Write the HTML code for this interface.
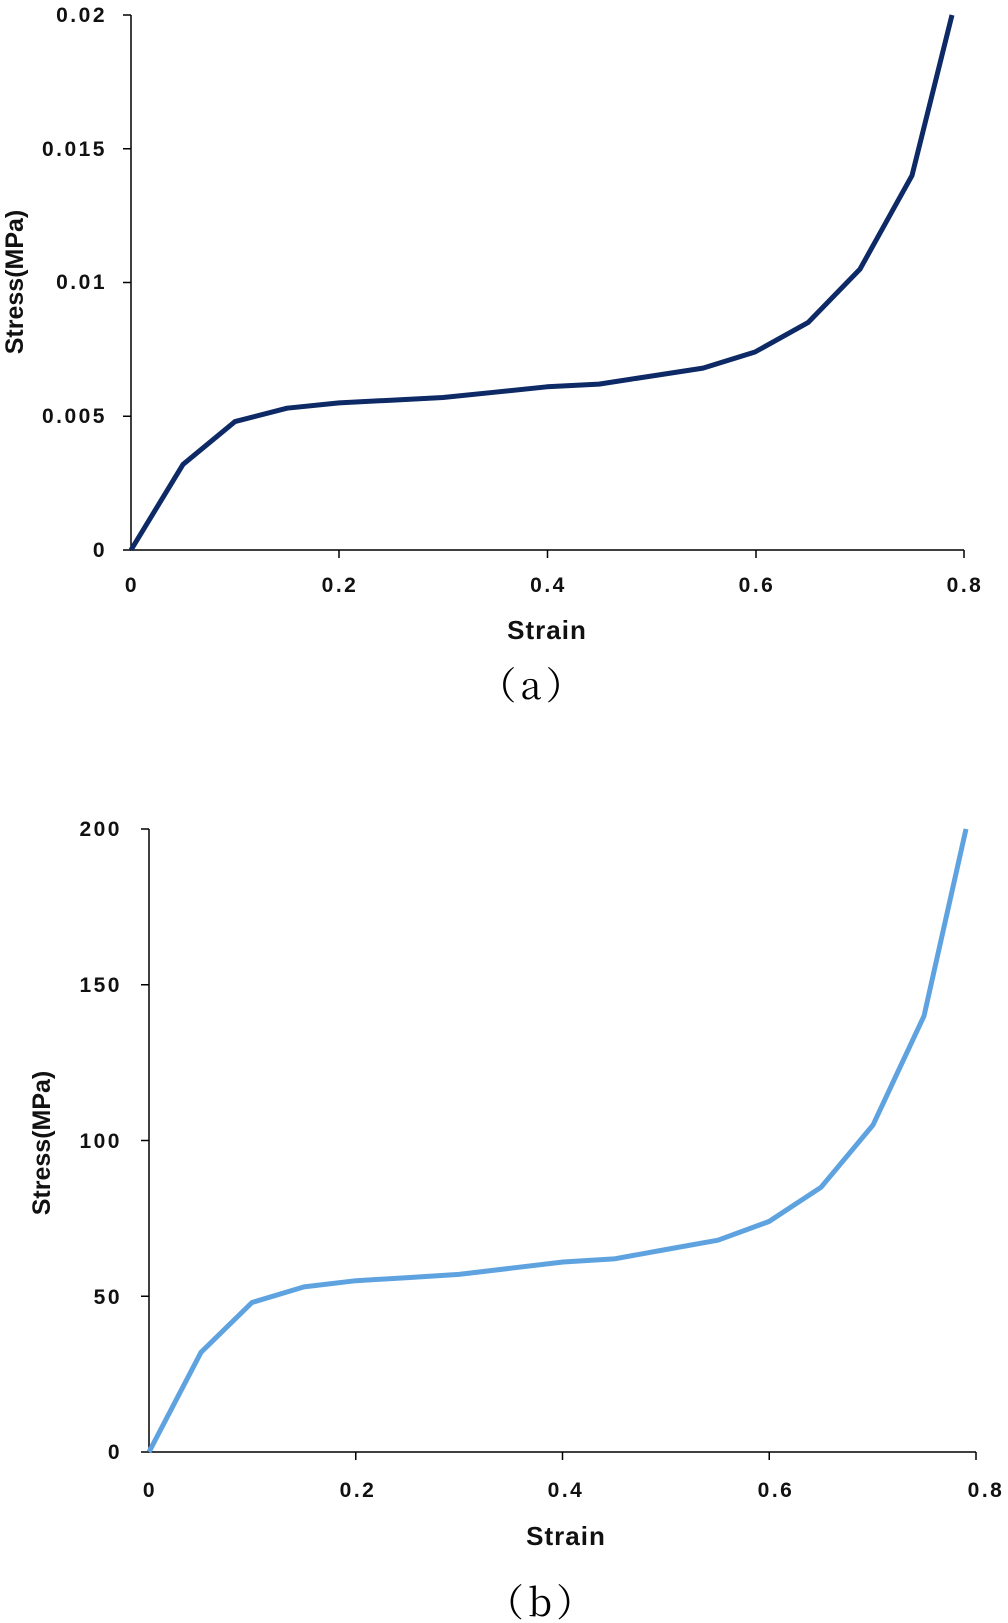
<!DOCTYPE html>
<html><head><meta charset="utf-8"><style>body{margin:0;background:#fff}svg{display:block}</style></head>
<body>
<svg width="1008" height="1623" viewBox="0 0 1008 1623" xmlns="http://www.w3.org/2000/svg" font-family="'Liberation Sans',sans-serif">
<g stroke="#000" stroke-width="1.5" fill="none">
<path d="M131 15 V550 H964"/>
<path d="M131 15 h-8 M131 148.75 h-8 M131 282.5 h-8 M131 416.25 h-8 M131 550 h-8"/>
<path d="M339 550 v8 M547.5 550 v8 M756 550 v8 M964 550 v8"/>
</g>
<g font-size="21" font-weight="bold" fill="#111" text-anchor="end" letter-spacing="2.5">
<text x="107" y="22">0.02</text><text x="107" y="156">0.015</text><text x="107" y="289">0.01</text><text x="107" y="423">0.005</text><text x="107" y="557">0</text>
</g>
<g font-size="21" font-weight="bold" fill="#111" text-anchor="middle" letter-spacing="2.5">
<text x="132" y="592">0</text><text x="340" y="592">0.2</text><text x="548.5" y="592">0.4</text><text x="757" y="592">0.6</text><text x="965" y="592">0.8</text>
</g>
<g font-weight="bold" fill="#111" text-anchor="middle">
<text x="547" y="639" font-size="26" letter-spacing="1">Strain</text>
<text transform="translate(23 282) rotate(-90)" font-size="25">Stress(MPa)</text>
</g>
<polyline fill="none" stroke="#0d2a66" stroke-width="5" stroke-linejoin="round"
points="131,550 183,464.4 235,421.6 287,408.2 339,402.9 391,400.2 443,397.5 495,392.2 547,386.8 599,384.1 651,376.1 703,368.1 755,352 808,322.6 860,269.1 912,175.5 952,15"/>
<text x="533" y="699" font-size="38" text-anchor="middle" letter-spacing="4" font-family="'Noto Serif CJK SC',serif">（a）</text>

<g stroke="#000" stroke-width="1.5" fill="none">
<path d="M149 829 V1452 H976"/>
<path d="M149 829 h-8 M149 984.75 h-8 M149 1140.5 h-8 M149 1296.25 h-8 M149 1452 h-8"/>
<path d="M355.75 1452 v8 M562.5 1452 v8 M769.25 1452 v8 M976 1452 v8"/>
</g>
<g font-size="21" font-weight="bold" fill="#111" text-anchor="end" letter-spacing="2.5">
<text x="122" y="836">200</text><text x="122" y="992">150</text><text x="122" y="1148">100</text><text x="122" y="1304">50</text><text x="122" y="1459">0</text>
</g>
<g font-size="21" font-weight="bold" fill="#111" text-anchor="middle" letter-spacing="2.5">
<text x="150" y="1497">0</text><text x="358" y="1497">0.2</text><text x="566" y="1497">0.4</text><text x="776" y="1497">0.6</text><text x="986" y="1497">0.8</text>
</g>
<g font-weight="bold" fill="#111" text-anchor="middle">
<text x="566" y="1545" font-size="26" letter-spacing="1">Strain</text>
<text transform="translate(50 1143) rotate(-90)" font-size="25">Stress(MPa)</text>
</g>
<polyline fill="none" stroke="#5ea3e0" stroke-width="5" stroke-linejoin="round"
points="149,1452 201,1352.3 252,1302.5 304,1286.9 356,1280.7 408,1277.6 459,1274.4 511,1268.2 563,1262 614,1258.9 666,1249.5 718,1240.2 769,1221.5 821,1187.3 873,1125 924,1016 966,829"/>
<text x="542" y="1616" font-size="38" text-anchor="middle" letter-spacing="4" font-family="'Noto Serif CJK SC',serif">（b）</text>
</svg>
</body></html>
